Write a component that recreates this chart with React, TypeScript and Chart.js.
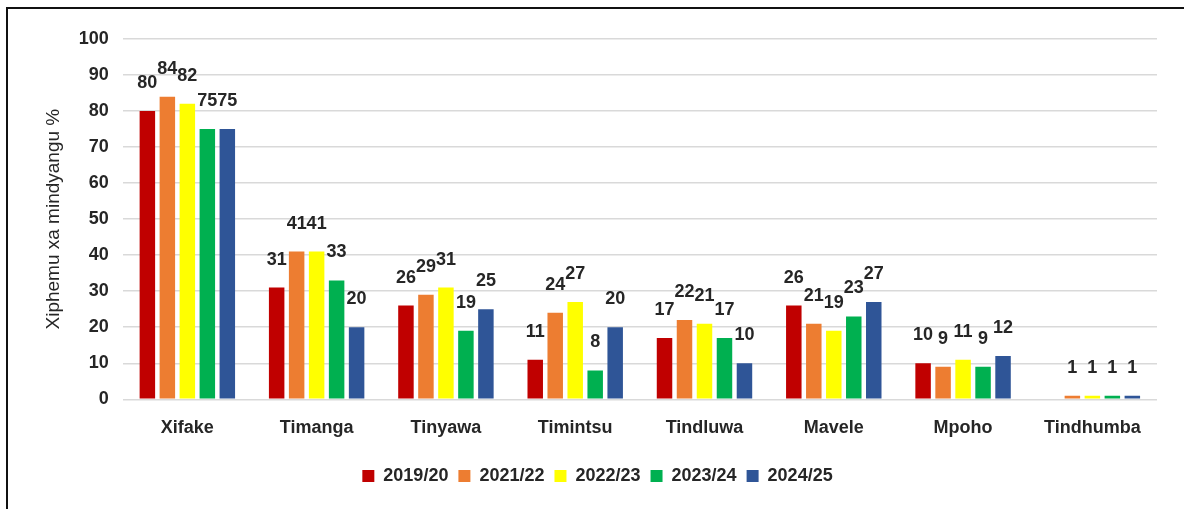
import React, { useEffect, useRef } from "react";
import { Chart, registerables } from "chart.js";

Chart.register(...registerables);

const categories = ["Xifake", "Timanga", "Tinyawa", "Timintsu", "Tindluwa", "Mavele", "Mpoho", "Tindhumba"];
const seriesNames = ["2019/20", "2021/22", "2022/23", "2023/24", "2024/25"];
const v2019 = [80, 31, 26, 11, 17, 26, 10, null];
const v2021 = [84, 41, 29, 24, 22, 21, 9, 1];
const v2022 = [82, 41, 31, 27, 21, 19, 11, 1];
const v2023 = [75, 33, 19, 8, 17, 23, 9, 1];
const v2024 = [75, 20, 25, 20, 10, 27, 12, 1];
const seriesValues = [v2019, v2021, v2022, v2023, v2024];
const seriesColors = ["#C00000", "#ED7D31", "#FFFF00", "#00B050", "#2F5597"];
const yTitle = "Xiphemu xa mindyangu %";

const FONT = "'Liberation Sans', Arial, sans-serif";
const TEXT = "#262626";

const labelPlugin = {
  id: "valueLabels",
  afterDatasetsDraw(chart: any) {
    const ctx = chart.ctx;
    ctx.save();
    ctx.font = `bold 18px ${FONT}`;
    ctx.fillStyle = TEXT;
    ctx.textAlign = "center";
    ctx.textBaseline = "middle";
    chart.data.datasets.forEach((ds: any, di: number) => {
      const meta = chart.getDatasetMeta(di);
      meta.data.forEach((bar: any, i: number) => {
        const v = ds.data[i];
        if (v === null || v === undefined) return;
        ctx.fillText(String(v), bar.x, bar.y - 28);
      });
    });
    ctx.restore();
  },
};

export default function App() {
  const ref = useRef<HTMLCanvasElement>(null);
  useEffect(() => {
    if (!ref.current) return;
    const chart = new Chart(ref.current, {
      type: "bar",
      data: {
        labels: categories,
        datasets: seriesNames.map((n, i) => ({
          label: n,
          data: seriesValues[i],
          backgroundColor: seriesColors[i],
          borderWidth: 0,
          categoryPercentage: 0.773,
          barPercentage: 0.775,
        })),
      },
      options: {
        animation: false,
        responsive: false,
        maintainAspectRatio: false,
        layout: { padding: { left: 30, right: 27, top: 30, bottom: 14 } },
        plugins: {
          tooltip: { enabled: false },
          legend: {
            position: "bottom",
            labels: {
              boxWidth: 12,
              boxHeight: 12,
              padding: 10,
              color: TEXT,
              font: { family: FONT, size: 18, weight: "bold" },
            },
          },
        },
        scales: {
          x: {
            grid: { display: false },
            border: { display: false },
            ticks: { color: TEXT, padding: 10, font: { family: FONT, size: 18, weight: "bold" } },
            afterFit(scale: any) {
              scale.height = 57.7;
            },
          },
          y: {
            min: 0,
            max: 100,
            ticks: { stepSize: 10, color: TEXT, padding: 14, font: { family: FONT, size: 18, weight: "bold" } },
            grid: { color: "#D9D9D9", lineWidth: 1.5, drawTicks: false },
            border: { display: false },
            title: {
              display: true,
              text: yTitle,
              color: TEXT,
              font: { family: FONT, size: 19 },
            },
            afterFit(scale: any) {
              scale.width = 84.7;
            },
          },
        },
      },
      plugins: [labelPlugin],
    } as any);
    return () => chart.destroy();
  }, []);
  return (
    <div
      style={{
        position: "fixed",
        left: 6,
        top: 7,
        width: 1178,
        height: 502,
        borderLeft: "2px solid #111",
        borderTop: "2px solid #111",
        background: "#fff",
      }}
    >
      <canvas ref={ref} width={1176} height={500} style={{ display: "block" }} />
    </div>
  );
}
